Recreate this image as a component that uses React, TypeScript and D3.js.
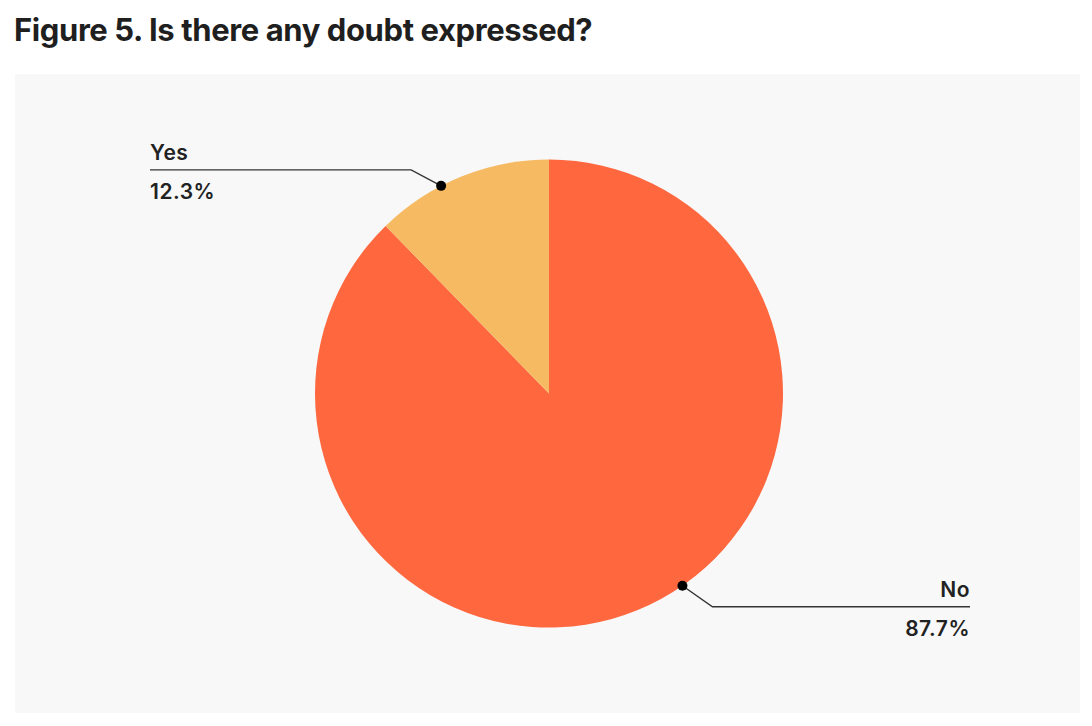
import React, { useEffect, useRef } from 'react'
import * as d3 from 'd3'

// chart data
const categories = ['No', 'Yes']
const shares = [87.7, 12.3]
const sliceColors = ['#FF673F', '#F6BA63']
const title = 'Figure 5. Is there any doubt expressed?'

const W = 1092
const H = 726

const App: React.FC = () => {
  const ref = useRef<SVGSVGElement | null>(null)

  useEffect(() => {
    const svg = d3.select(ref.current)
    svg.selectAll('*').remove()

    // title
    svg
      .append('text')
      .attr('x', 14)
      .attr('y', 41)
      .attr('font-family', 'Inter, sans-serif')
      .attr('font-weight', 700)
      .attr('font-size', 31)
      .attr('letter-spacing', -0.4)
      .attr('fill', '#1f1f1f')
      .text(title)

    // grey panel
    svg
      .append('rect')
      .attr('x', 15)
      .attr('y', 74)
      .attr('width', 1065)
      .attr('height', 639)
      .attr('fill', '#f8f8f8')

    const cx = 549
    const cy = 393.5
    const radius = 234

    const data = categories.map((c, i) => ({ label: c, value: shares[i], color: sliceColors[i] }))

    const pie = d3
      .pie<{ label: string; value: number; color: string }>()
      .value((d) => d.value)
      .sort(null)

    const arc = d3
      .arc<d3.PieArcDatum<{ label: string; value: number; color: string }>>()
      .innerRadius(0)
      .outerRadius(radius)

    const g = svg.append('g').attr('transform', `translate(${cx},${cy})`)
    const arcs = pie(data)

    g.selectAll('path')
      .data(arcs)
      .enter()
      .append('path')
      .attr('d', arc)
      .attr('fill', (d) => d.data.color)

    // label layout: where the connector touches the slice (fraction of slice span),
    // which side the text sits on and how far the elbow is
    const labelLayout: Record<string, { t: number; side: number; elbowDx: number; elbowDy: number; end: number }> = {
      Yes: { t: 0.38, side: -1, elbowDx: -30, elbowDy: -16, end: 150 },
      No: { t: 0.46, side: 1, elbowDx: 30, elbowDy: 21, end: 970 },
    }

    const fmt = d3.format('.1f')

    arcs.forEach((d) => {
      const lay = labelLayout[d.data.label]
      const a = d.startAngle + (d.endAngle - d.startAngle) * lay.t
      const px = cx + radius * Math.sin(a)
      const py = cy - radius * Math.cos(a)
      const ex = px + lay.elbowDx
      const ey = py + lay.elbowDy

      svg
        .append('path')
        .attr('d', `M${px},${py}L${ex},${ey}L${lay.end},${ey}`)
        .attr('fill', 'none')
        .attr('stroke', '#333')
        .attr('stroke-width', 1.4)

      svg
        .append('circle')
        .attr('cx', px)
        .attr('cy', py)
        .attr('r', 5)
        .attr('fill', '#000')

      const anchor = lay.side < 0 ? 'start' : 'end'
      const addText = (y: number, s: string) =>
        svg
          .append('text')
          .attr('x', lay.end)
          .attr('y', y)
          .attr('text-anchor', anchor)
          .attr('font-family', 'Inter, sans-serif')
          .attr('font-weight', 600)
          .attr('font-size', 21)
          .attr('letter-spacing', 0.5)
          .attr('fill', '#222')
          .text(s)

      addText(ey - 10, d.data.label)
      addText(ey + 29, `${fmt(d.data.value)}%`)
    })
  }, [])

  return (
    <svg
      ref={ref}
      width={W}
      height={H}
      style={{ position: 'absolute', left: 0, top: 0, background: '#fff' }}
    ></svg>
  )
}

export default App
